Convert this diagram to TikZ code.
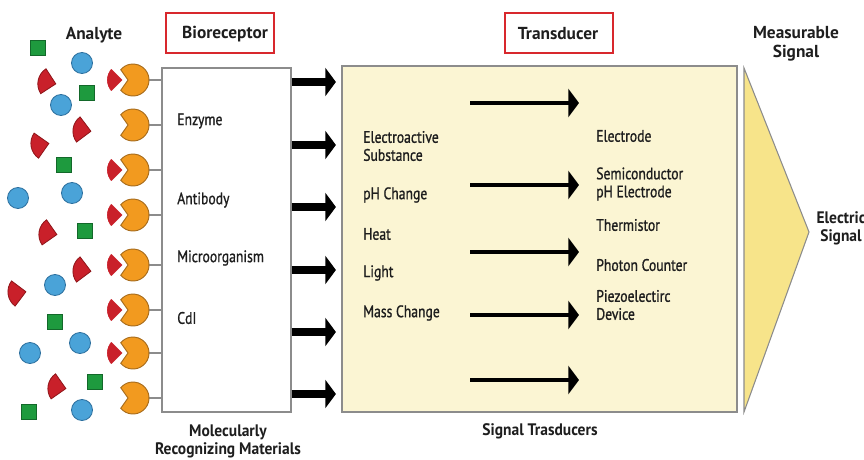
\documentclass[tikz,border=0pt]{standalone}
\usepackage{fontspec}
\setmainfont[FakeStretch=0.82, FakeBold=1]{PT Sans}
\newfontfamily\headfamily[FakeStretch=1.0]{PT Sans}
\newfontfamily\capfamily[FakeStretch=0.93]{PT Sans}
\usetikzlibrary{arrows.meta}

\definecolor{ink}{HTML}{1E1E1E}
\definecolor{frame}{HTML}{8C8C8C}
\definecolor{tagred}{HTML}{D8282D}
\definecolor{cream}{HTML}{FBF5D3}
\definecolor{signalyellow}{HTML}{F7E48A}
\definecolor{pacfill}{HTML}{F29A1F}
\definecolor{pacline}{HTML}{A86C1C}
\definecolor{wedgefill}{HTML}{C9202A}
\definecolor{wedgeline}{HTML}{8E1418}
\definecolor{sqfill}{HTML}{1E9A3E}
\definecolor{sqline}{HTML}{13682A}
\definecolor{dotfill}{HTML}{4AA3D8}
\definecolor{dotline}{HTML}{2C6F9E}

\newcommand{\lblfont}{\fontsize{12.5}{13.5}\selectfont}
\newcommand{\headfont}{\headfamily\bfseries\fontsize{13}{14}\selectfont}
\newcommand{\capfont}{\capfamily\bfseries\fontsize{12.5}{13.5}\selectfont}

\tikzset{
  txt/.style={font=\lblfont, text=ink, inner sep=0pt},
  head/.style={font=\headfont, text=ink, inner sep=0pt},
  caption/.style={font=\capfont, text=ink, inner sep=0pt},
  tag/.style={draw=tagred, line width=1.6pt, minimum height=30pt, inner sep=0pt},
  panel/.style={draw=frame, line width=1.1pt, inner sep=0pt},
  fatarrow/.style={line width=6pt, draw=black, -{Triangle[length=8pt,width=21pt]}},
  slimarrow/.style={line width=3pt, draw=black, -{Triangle[length=8pt,width=21pt]}},
  tether/.style={draw=frame, line width=0.9pt},
  greensq/.pic={\filldraw[fill=sqfill, draw=sqline, line width=0.6pt] (-7.5,-7.5) rectangle (7.5,7.5);},
  bluedot/.pic={\filldraw[fill=dotfill, draw=dotline, line width=0.6pt] (0,0) circle[radius=10.5];},
  redwedge/.pic={\filldraw[fill=wedgefill, draw=wedgeline, line width=0.6pt]
      (9,0) -- ++(135:18) arc[start angle=135, end angle=225, radius=18] -- cycle;},
  boundwedge/.pic={\filldraw[fill=wedgefill, draw=white, line width=1.4pt]
      (9,0) -- ++(135:18) arc[start angle=135, end angle=225, radius=18] -- cycle;},
  pacman/.pic={\filldraw[fill=pacfill, draw=pacline, line width=0.7pt]
      (-5,0) -- (140:16) arc[start angle=140, end angle=-140, radius=16] -- cycle;},
}

\begin{document}
\begin{tikzpicture}[x=0.75pt, y=-0.75pt]
\useasboundingbox (0,0) rectangle (864,460);

% ---- headings ----
\node[head] (analyte) at (94,35) {Analyte};
\node[tag, minimum width=81pt] (biotag) at (220,33) {};
\node[head] (biotext) at (225,34) {Bioreceptor};
\node[tag, minimum width=81pt] (trtag) at (559,33) {};
\node[head] (trtext) at (558,34) {Transducer};
\node[head, align=center] (measure) at (796,44) {Measurable\\Signal};

% ---- panels ----
\node[panel, fill=white, minimum width=96.75pt, minimum height=258pt] (bio) at (226.5,240) {};
\node[panel, fill=cream, minimum width=296.25pt, minimum height=259.5pt] (trans) at (539.5,239) {};
\filldraw[fill=signalyellow, draw=frame, line width=0.8pt]
  (744,68) coordinate (sigtop) -- (809,232) coordinate (sigtip) -- (744,412) coordinate (sigbot) -- cycle;
\node[caption, align=center] (elec) at (841,228) {Electric\\Signal};

% ---- bioreceptor panel texts ----
\node[txt, anchor=west] (enz) at (177,121) {Enzyme};
\node[txt, anchor=west] (ab) at (177,200) {Antibody};
\node[txt, anchor=west] (micro) at (177,258) {Microorganism};
\node[txt, anchor=west] (cdi) at (177,318) {CdI};
\node[caption, align=center] (mrm) at (228,441) {Molecularly\\Recognizing Materials};

% ---- transducer panel texts ----
\node[txt, anchor=west, align=left] (ea) at (363,146) {Electroactive\\Substance};
\node[txt, anchor=west] (ph) at (363,195) {pH Change};
\node[txt, anchor=west] (heat) at (363,234) {Heat};
\node[txt, anchor=west] (light) at (363,273) {Light};
\node[txt, anchor=west] (mass) at (363,313) {Mass Change};

\node[txt, anchor=west] (electrode) at (596,136) {Electrode};
\node[txt, anchor=west, align=left] (semi) at (596,184) {Semiconductor\\pH Electrode};
\node[txt, anchor=west] (therm) at (596,225) {Thermistor};
\node[txt, anchor=west] (photon) at (596,265) {Photon Counter};
\node[txt, anchor=west, align=left] (piezo) at (596,305) {Piezoelectirc\\Device};
\node[caption] (sigtr) at (540,431) {Signal Trasducers};

% ---- receptors on the panel edge ----
\foreach \y/\bound in {80/1,125/0,170/1,215/1,265/1,310/1,353/1,398/0}{
  \coordinate (r\y) at (133,\y);
  \draw[tether] (148,\y) -- (bio.west |- r\y);
  \pic at (r\y) {pacman};
  \ifnum\bound=1 \pic at (115,\y) {boundwedge}; \fi
}

% ---- free analytes ----
\foreach \p in {(38,48),(87,93),(64,165),(85,231),(55,322),(95,382),(29,412)}
  \pic at \p {greensq};
\foreach \p in {(82,63),(61,105),(18,198),(72,193),(55,285),(80,343),(30,353),(82,410)}
  \pic at \p {bluedot};
\pic[rotate=-12] at (47,82) {redwedge};
\pic[rotate=-8] at (82,130) {redwedge};
\pic[rotate=10] at (40,145) {redwedge};
\pic[rotate=-10] at (48,233) {redwedge};
\pic[rotate=-8] at (82,270) {redwedge};
\pic[rotate=8] at (17,293) {redwedge};
\pic[rotate=-10] at (57,387) {redwedge};

% ---- bioreceptor to transducer ----
\foreach \y in {82,145,207,270,332,394}{
  \coordinate (f\y) at (0,\y);
  \draw[fatarrow, shorten >=4pt] (bio.east |- f\y) -- (trans.west |- f\y);
}

% ---- signal arrows inside the transducer ----
\foreach \y in {103,185,252,315,380}{
  \coordinate (s\y) at (470,\y);
  \coordinate (e\y) at (579,\y);
  \draw[slimarrow] (s\y) -- (e\y);
}
\end{tikzpicture}
\end{document}
